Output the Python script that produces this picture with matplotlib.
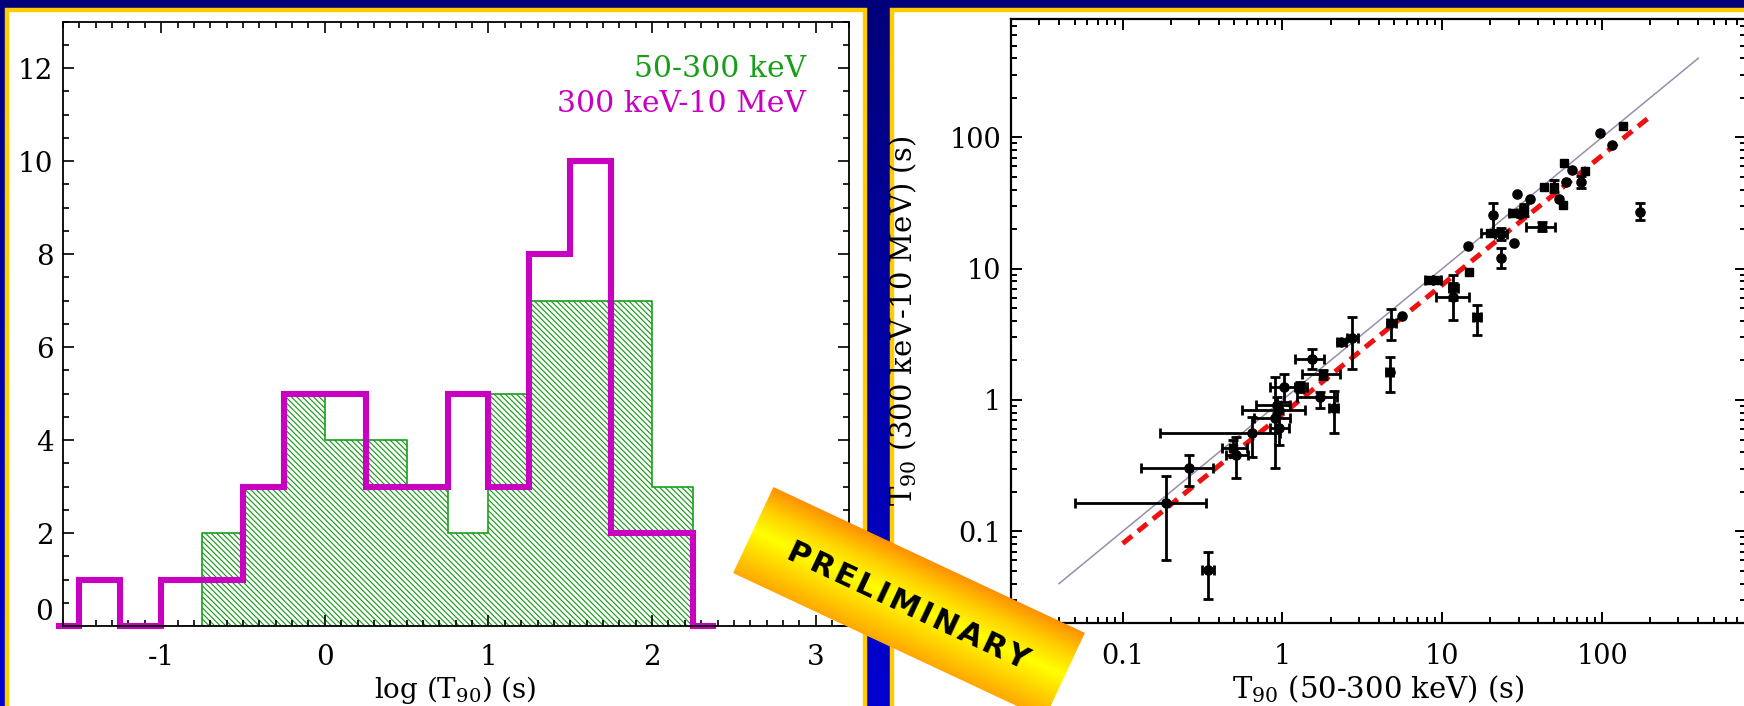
import numpy as np
import matplotlib
matplotlib.use('Agg')
import matplotlib.pyplot as plt
from matplotlib.patches import Rectangle, Polygon
from matplotlib.colors import LinearSegmentedColormap
from matplotlib.ticker import MultipleLocator, LogLocator, FuncFormatter, NullFormatter

plt.rcParams['font.family'] = 'DejaVu Serif'
plt.rcParams['mathtext.fontset'] = 'dejavuserif'
plt.rcParams['axes.unicode_minus'] = False
plt.rcParams['hatch.linewidth'] = 0.85

nan = np.nan

# ---- left panel: histograms of log(T90), 0.25 wide bins (bin centres) ----
hard_centres = [-1.625, -1.375, -1.125, -0.875, -0.625, -0.375, -0.125, 0.125,
                0.375, 0.625, 0.875, 1.125, 1.375, 1.625, 1.875, 2.125, 2.375]
hard_counts = [0, 1, 0, 1, 1, 3, 5, 5, 3, 3, 5, 3, 8, 10, 2, 2, 0]   # 300 keV-10 MeV
soft_centres = [-0.875, -0.625, -0.375, -0.125, 0.125, 0.375, 0.625, 0.875,
                1.125, 1.375, 1.625, 1.875, 2.125, 2.375]
soft_counts = [0, 2, 3, 5, 4, 4, 3, 2, 5, 7, 7, 7, 3, 0]              # 50-300 keV

# ---- right panel: T90 (50-300 keV) vs T90 (300 keV-10 MeV) ----
t90_soft = [0.187, 0.261, 0.342, 0.49, 0.515, 0.64, 0.90, 0.946, 0.946, 0.93,
            1.02, 1.29, 1.53, 1.79, 1.71, 2.09, 2.34, 2.74, 4.68, 4.80,
            5.59, 8.2, 9.27, 11.7, 11.7, 14.6, 14.5, 16.5, 19.8, 20.9,
            23.3, 23.3, 28.3, 29.3, 27.7, 30.8, 32.3, 35.2, 42.1, 43.0,
            49.7, 53.4, 56.6, 58.0, 59.7, 64.8, 73.8, 78.5, 96.6, 115,
            135, 173]
t90_hard = [0.163, 0.305, 0.0505, 0.43, 0.38, 0.56, 0.73, 0.61, 0.84, 0.92,
            1.26, 1.26, 2.04, 1.57, 1.06, 0.873, 2.75, 2.97, 1.64, 3.85,
            4.36, 8.2, 8.2, 7.1, 6.12, 9.49, 14.9, 4.27, 18.8, 25.6,
            18.3, 12.0, 15.6, 37.1, 26.7, 26.1, 28.0, 34.1, 20.9, 42.2,
            42.2, 33.8, 30.6, 64.1, 46.0, 56.5, 46.0, 55.7, 107, 87.5,
            122, 27.2]
soft_lo = [0.050, 0.131, 0.315, 0.42, 0.44, 0.172, 0.667, 0.84, 0.558, 0.68,
           0.84, 1.19, 1.19, 1.32, 1.23, 1.95, 2.2, 2.55, 4.45, 4.5,
           nan, 7.8, 8.8, 11.0, 9.1, nan, nan, 15.5, 17.5, nan,
           21.5, nan, nan, nan, 26.0, nan, 30.5, nan, 33.6, nan,
           nan, nan, nan, nan, nan, nan, nan, nan, nan, nan,
           nan, nan]
soft_hi = [0.330, 0.370, 0.375, 0.60, 0.61, 0.97, 1.107, 1.10, 1.38, 1.11,
           1.37, 1.42, 1.81, 2.30, 2.19, 2.24, 2.5, 2.95, 4.9, 5.1,
           nan, 8.7, 9.8, 12.6, 14.6, nan, nan, 17.5, 22.5, nan,
           25.5, nan, nan, nan, 29.5, nan, 34.0, nan, 50.9, nan,
           nan, nan, nan, nan, nan, nan, nan, nan, nan, nan,
           nan, nan]
hard_lo = [0.060, 0.220, 0.0305, 0.37, 0.255, 0.37, 0.302, 0.454, nan, 0.80,
           0.97, 1.15, 1.71, 1.45, 0.865, 0.564, nan, 1.71, 1.16, 2.86,
           nan, nan, nan, 5.78, 4.07, nan, nan, 3.13, nan, 19.7,
           16.5, 10.1, nan, nan, nan, nan, 25.0, nan, 19.5, nan,
           38.0, nan, nan, nan, nan, nan, 41.0, nan, nan, nan,
           nan, 23.5]
hard_hi = [0.266, 0.381, 0.070, 0.50, 0.52, 0.74, 1.50, 0.79, nan, 1.05,
           1.57, 1.38, 2.43, 1.70, 1.16, 1.17, nan, 4.25, 2.14, 4.93,
           nan, nan, nan, 8.96, 7.74, nan, nan, 5.3, nan, 31.5,
           20.5, 14.3, nan, nan, nan, nan, 31.0, nan, 22.5, nan,
           47.0, nan, nan, nan, nan, nan, 51.0, nan, nan, nan,
           nan, 31.5]
is_square = [0, 0, 0, 1, 0, 0, 0, 0, 0, 0,
             0, 1, 0, 1, 0, 0, 0, 0, 0, 0,
             0, 1, 1, 0, 0, 1, 0, 1, 1, 0,
             0, 0, 0, 0, 1, 0, 1, 0, 1, 1,
             1, 0, 1, 1, 0, 0, 0, 1, 0, 0,
             1, 0]

equal_range = [0.04, 400]
fit_range = [0.1, 200]
fit_norm, fit_index = 0.78, 0.985

W, H = 1744, 706
fig = plt.figure(figsize=(W / 100, H / 100), dpi=100)

# background: blue gradient and two white panels with gold frames
bg = fig.add_axes([0, 0, 1, 1], zorder=-5)
bg.set_xlim(0, W)
bg.set_ylim(H, 0)
bg.axis('off')
blue = LinearSegmentedColormap.from_list('blue', ['#00007a', '#0000d2'])
bg.imshow(np.linspace(0, 1, 256).reshape(-1, 1), cmap=blue, aspect='auto',
          extent=(0, W, H, 0), origin='upper')
bg.add_patch(Rectangle((7, 9.5), 857.5, 700, facecolor='white',
                       edgecolor='#ffcc00', lw=3.2))
bg.add_patch(Rectangle((891.5, 9.5), 900, 700, facecolor='white',
                       edgecolor='#ffcc00', lw=3.2))

green = '#1a9e1a'
magenta = '#c800c0'

# ---------------- left panel ----------------
ax1 = fig.add_axes([63 / W, (H - 626) / H, 785.5 / W, 604.3 / H])
ax1.patch.set_alpha(0)
ax1.fill_between(soft_centres, soft_counts, step='mid', facecolor='white',
                 edgecolor=green, hatch='\\' * 6, linewidth=0)
ax1.plot(soft_centres, soft_counts, drawstyle='steps-mid', color=green, lw=1.2)
ax1.plot(hard_centres, hard_counts, drawstyle='steps-mid', color=magenta,
         lw=4.4, clip_on=False, solid_joinstyle='miter')
ax1.set_xlim(-1.6, 3.2)
ax1.set_ylim(0, 13)
ax1.xaxis.set_major_locator(MultipleLocator(1))
ax1.xaxis.set_minor_locator(MultipleLocator(0.1))
ax1.yaxis.set_major_locator(MultipleLocator(2))
ax1.yaxis.set_minor_locator(MultipleLocator(0.5))
ax1.tick_params(which='both', direction='in', top=True, right=True, width=1.2,
                labelsize=20)
ax1.tick_params(which='major', length=8)
ax1.tick_params(which='minor', length=4.5)
ax1.tick_params(axis='x', pad=13)
ax1.tick_params(axis='y', pad=7)
for s in ax1.spines.values():
    s.set_linewidth(1.3)
ax1.set_xlabel('log (T$_{90}$) (s)', fontsize=20)
ax1.xaxis.set_label_coords(0.5, -0.080)
ax1.xaxis.label.set_va('top')
ax1.text(0.946, 0.908, '50-300 keV', color=green, fontsize=21.5,
         ha='right', va='baseline', transform=ax1.transAxes)
ax1.text(0.946, 0.850, '300 keV-10 MeV', color=magenta, fontsize=21.5,
         ha='right', va='baseline', transform=ax1.transAxes)

# ---------------- right panel ----------------
ax2 = fig.add_axes([1011 / W, (H - 623.1) / H, 735.4 / W, 604.4 / H])
ax2.patch.set_alpha(0)
ax2.set_xscale('log')
ax2.set_yscale('log')
ax2.set_xlim(0.02, 800)
ax2.set_ylim(0.02, 800)

ax2.plot(equal_range, equal_range, color='#9a8cab', lw=1.1)
fx = np.array(fit_range)
ax2.plot(fx, fit_norm * fx ** fit_index, color='#ee1111', lw=3.6,
         dashes=(2.4, 1.5))

xs = np.array(t90_soft)
ys = np.array(t90_hard)
xerr = np.array([xs - np.array(soft_lo), np.array(soft_hi) - xs])
yerr = np.array([ys - np.array(hard_lo), np.array(hard_hi) - ys])
ax2.errorbar(xs, ys, xerr=xerr, yerr=yerr, fmt='none', ecolor='black',
             elinewidth=2.0, capsize=3.8, capthick=2.0)
sq = np.array(is_square, dtype=bool)
ax2.plot(xs[~sq], ys[~sq], 'o', color='black', ms=6.6, mec='black')
ax2.plot(xs[sq], ys[sq], 's', color='black', ms=6.0, mec='black')

ax2.xaxis.set_major_locator(LogLocator(base=10))
ax2.yaxis.set_major_locator(LogLocator(base=10))
ax2.xaxis.set_minor_locator(LogLocator(base=10, subs=np.arange(2, 10)))
ax2.yaxis.set_minor_locator(LogLocator(base=10, subs=np.arange(2, 10)))
fmt = FuncFormatter(lambda v, p: f'{v:g}')
ax2.xaxis.set_major_formatter(fmt)
ax2.yaxis.set_major_formatter(fmt)
ax2.xaxis.set_minor_formatter(NullFormatter())
ax2.yaxis.set_minor_formatter(NullFormatter())
ax2.tick_params(which='both', direction='in', top=True, right=True, width=1.4,
                labelsize=19.5)
ax2.tick_params(which='major', length=8)
ax2.tick_params(which='minor', length=4.5)
ax2.tick_params(axis='x', pad=14)
ax2.tick_params(axis='y', pad=7)
for s in ax2.spines.values():
    s.set_linewidth(1.6)
ax2.set_xlabel('T$_{90}$ (50-300 keV) (s)', fontsize=21)
ax2.xaxis.set_label_coords(0.5, -0.0826)
ax2.xaxis.label.set_va('top')
ax2.set_ylabel('T$_{90}$ (300 keV-10 MeV) (s)', fontsize=21)
ax2.yaxis.set_label_coords(-0.125, 0.5)

# ---------------- PRELIMINARY banner ----------------
over = fig.add_axes([0, 0, 1, 1], zorder=10)
over.set_xlim(0, W)
over.set_ylim(H, 0)
over.axis('off')
cx, cy, blen, bwid, ang = 909, 603, 344, 95, 25.1
a = np.deg2rad(ang)
u = np.array([np.cos(a), np.sin(a)])
n = np.array([-np.sin(a), np.cos(a)])
c = np.array([cx, cy])
corners = [c - blen / 2 * u - bwid / 2 * n, c + blen / 2 * u - bwid / 2 * n,
           c + blen / 2 * u + bwid / 2 * n, c - blen / 2 * u + bwid / 2 * n]
poly = Polygon(corners, closed=True, facecolor='none', edgecolor='none')
over.add_patch(poly)
cs = np.array(corners)
x0, x1 = cs[:, 0].min(), cs[:, 0].max()
y0, y1 = cs[:, 1].min(), cs[:, 1].max()
gx, gy = np.meshgrid(np.linspace(x0, x1, 400), np.linspace(y0, y1, 400))
across = ((gx - cx) * n[0] + (gy - cy) * n[1]) / (bwid / 2)
orange = LinearSegmentedColormap.from_list(
    'banner', ['#ff9000', '#ffd000', '#ffff00', '#ffd400', '#ffa800'])
im = over.imshow(across, cmap=orange, vmin=-1, vmax=1, extent=(x0, x1, y1, y0),
                 origin='upper', aspect='auto')
im.set_clip_path(poly)
over.text(908, 606, '\u200a'.join('PRELIMINARY'), rotation=-ang,
          rotation_mode='anchor', ha='center', va='center',
          family='DejaVu Sans', fontweight='bold', fontsize=22, color='black')

# the "0" label of the histogram sits a little above its tick, as in the original
fig.canvas.draw()
for t in ax1.yaxis.get_major_ticks():
    if t.label1.get_text() == '0':
        t.label1.set_va('bottom')

fig.savefig('out.png', dpi=100)
